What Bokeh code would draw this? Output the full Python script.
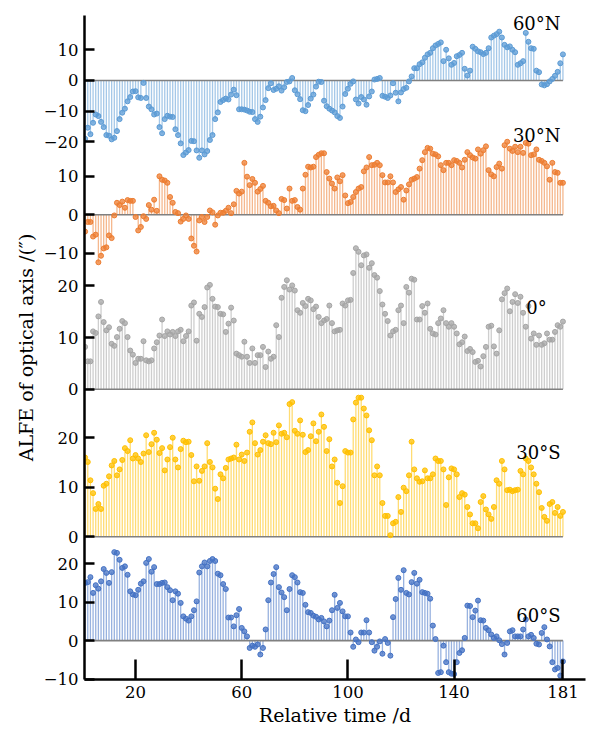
from bokeh.plotting import figure
from bokeh.models import (Range1d, LinearAxis, FixedTicker, CustomJSTickFormatter,
                          Label, ColumnDataSource)
from bokeh.embed import file_html
from bokeh.resources import INLINE

# ALFE of the optical axis, one value per day (arcseconds)
days = list(range(1, 182))

lat_60n = [
    -19, -15.4, -17.5, -13.8, -11.1, -11.6, -13.5, -15.2, -17.8, -18,
    -19.2, -18.7, -16.5, -12.6, -10.5, -9.2, -6.8, -5.4, -3.6, -3.5,
    -5.5, -5.7, -0.8, -5.7, -8.5, -9.4, -11.1, -10.8, -15.2, -17.2,
    -12.6, -11.5, -11.8, -11.9, -15.9, -17.8, -20.5, -24.3, -23.5, -22.7,
    -19.7, -19.8, -22.8, -25.2, -22.8, -24.1, -23, -19.4, -17.8, -12.6,
    -10.4, -7, -6.4, -5.9, -6.2, -4.6, -3, -4.8, -9.4, -9.4,
    -9.5, -9.8, -10.2, -10.3, -12.6, -13.5, -11.8, -8.8, -6.4, -2.5,
    -0.9, -3.1, -2.7, -1.9, -3.3, -2.2, -0.5, -0.3, 0.8, -3.2,
    -4.5, -6.1, -9.7, -10, -8, -5.9, -4.6, -2, -0.4, -0.5,
    -6.6, -8.4, -9.2, -9.8, -10.4, -11.6, -12.2, -8.5, -4.4, -2.7,
    -1.1, -0.3, -6.2, -7.5, -5.4, -6.2, -7.9, -5.2, -3.6, 0.3,
    0.5, 0.8, -5.0, -5.3, -5.7, -4.9, -0.9, -4.0, -6.8, -3.9,
    -2.8, -2.4, -0.3, 1.3, 4, 4, 5.3, 5.9, 7.4, 8.5,
    9, 10.5, 11.4, 11.9, 12.4, 6.3, 10, 7.2, 5.1, 5.7,
    7.9, 8.3, 9, 3.8, 1.6, 3.2, 11, 10.3, 9.5, 9.2,
    8.6, 9, 10.5, 14, 14.6, 15.1, 15.9, 14, 11.6, 10.8,
    11.1, 10, 9.2, 5.1, 5.6, 6.3, 15.5, 12.6, 10.5, 10.3,
    3.2, 2.7, -1.3, -1.6, -1.2, -0.3, 0.5, 1.5, 2.8, 5.6, 8.5,
]

lat_30n = [
    -4.4, -1.9, -1.9, -5.7, -5.2, -12.4, -10.7, -8.8, -8.5, -5.4,
    -6.1, -0.2, 3.1, 2.5, 3.4, 1.8, 3.8, 3.6, 3.6, -0.6,
    -4.1, -3.2, -0.4, -1.1, 2.5, 1.3, 3.9, 1.0, 10, 9.1,
    8.9, 8.3, 4.6, 3.1, 0.7, 0.4, -1.8, -1.1, -0.2, -1.1,
    -6.2, -8.1, -9.6, -1.5, -0.6, -1.9, -0.6, 1.1, 0.6, -2.6,
    -0.2, 0.5, 0.5, 1, 1.8, 0.4, 2.7, 6.2, 5.5, 6,
    13.5, 9.9, 7.7, 9.3, 8.3, 6, 6.7, 7.5, 3.6, 3.1,
    2.2, 2.3, 1.1, 0.4, 4.1, 3.8, 1.6, 6.8, 3.6, 3.8,
    2, 1.3, 6.8, 10.4, 12.5, 12.3, 12.5, 15, 15.6, 16,
    16, 11.1, 9.4, 8.1, 6.8, 9.7, 8.7, 10.3, 5, 3,
    3.3, 4.6, 5.9, 6.8, 7.2, 11.3, 12.3, 15, 12.9, 13,
    13.5, 12.9, 10.3, 8.4, 8.4, 10, 8.4, 5.9, 6.6, 7.2,
    3.9, 6.3, 7.9, 9.1, 9.4, 9.8, 12, 14.2, 16.3, 17.4,
    17.2, 15.9, 15.7, 15.2, 12.9, 11.6, 13.5, 13.5, 12.9, 14.2,
    14, 13.5, 12.3, 14.3, 16.3, 15.5, 14.9, 14.6, 17, 15.9,
    16.8, 17.8, 11.6, 10.5, 10, 12.4, 13.3, 12, 18.1, 19,
    17.2, 16.6, 17.7, 16.3, 17.7, 16.1, 18.7, 18.5, 15.5, 15.7,
    17, 14.3, 14, 13.5, 12.6, 9.1, 13.5, 11.1, 10.9, 8.3, 8.3,
]

lat_0 = [
    8.2, 5.4, 5.4, 11.2, 10.9, 14.1, 16.9, 13, 11.4, 12,
    8.8, 8.4, 10.1, 11.7, 13.2, 12.8, 10.1, 7.5, 6.7, 5.1,
    5.9, 5.9, 9.3, 5.6, 5.4, 5.6, 7.9, 9.1, 10.4, 13.5,
    10.3, 11.2, 10.6, 11.1, 10.3, 11.2, 11.5, 9.3, 10.3, 11.2,
    16.2, 16.8, 9.4, 14.6, 14, 15.9, 19.7, 20.2, 17.5, 16,
    15.9, 14.6, 14.5, 11.1, 12.7, 15.8, 13.3, 6.9, 6.6, 6.3,
    9.2, 6.3, 5.1, 7.9, 5.1, 6.6, 6.6, 8.2, 4.3, 7.3,
    5.9, 6.3, 12.4, 10.1, 17.7, 19.8, 21.1, 19.3,
    20.1, 19.1, 15.3, 14.8, 16.7, 16.1, 17.5, 17.2, 15.5, 16, 14, 12.8,
    13.3, 13.6, 16.2, 12.8, 11.2, 11.4, 11.5, 16.6, 16.2, 17.2,
    17.3, 22.5, 27.3, 26.6, 24, 25.9, 26.1, 23.5, 24.4, 22.1,
    21.6, 19, 16.4, 14.6, 13.2, 10.4, 11.2, 11.5, 15.3, 16.2,
    12.8, 19.8, 18.7, 21.4, 21.2, 13.5, 13.5, 16.1, 14.8, 16.6,
    11.7, 10.8, 10.6, 12.8, 13.7, 15.3, 12.8, 12.1, 12.8, 12.1,
    10.8, 8.7, 9.1, 10.2, 7.4, 7.8, 7.2, 5.3, 5.5, 4.4,
    6.4, 8.2, 12.1, 12.3, 8.3, 6.9, 11.4, 17.4, 18.6, 19.5,
    15.1, 16.9, 18.4, 16.7, 17.9, 14.8, 12.1, 16.1, 9.8, 10.8,
    8.6, 10.4, 8.6, 8.9, 10.8, 9.6, 9.6, 11.1, 12.4, 12.1, 13.1,
]

lat_30s = [
    16, 15.1, 11.4, 8.8, 5.6, 6.6, 5.6, 10.3, 10.7, 12.2,
    14.4, 15.3, 12.4, 13.6, 15.5, 17.9, 17.3, 19.5, 15.8, 16.5,
    15.8, 15.1, 16.8, 20.5, 17.1, 18.7, 21, 19.6, 16.9, 17.9,
    13.4, 15.6, 18.1, 20, 15.6, 14, 17.7, 19.4, 19.1, 19.2,
    16.5, 11.2, 14.2, 11.3, 13.3, 14.2, 18.9, 15.1, 14, 9.7,
    7.6, 12.6, 11.8, 13.9, 15.6, 15.8, 16, 18.6, 15.6, 16.6,
    15.3, 17, 21.2, 23.1, 18.9, 16.6, 17.5, 19.2, 20.5, 18.9,
    18.7, 21, 19.1, 22.5, 20.8, 21, 20.1, 26.8,
    27.2, 21.4, 20.8, 23.5, 20.6, 17.1, 17.5, 20.3, 22.9, 19.3, 21.2, 24.7,
    22.2, 17.3, 19.7, 14.2, 15.6, 10.9, 6.8, 10.2, 17.3, 17,
    17, 23.7, 27.1, 28.1, 28.1, 25.9, 24.5, 21.5, 19.5, 12.4,
    14.2, 12.4, 6.8, 4.2, 4.2, 0.3, 2.7, 3, 8, 5,
    9.9, 9.2, 12.4, 19.2, 13.6, 11.8, 11.1, 11.2, 13.4, 11.8,
    11.8, 12.6, 15.8, 15.3, 15.3, 13.6, 6.4, 12, 13.8, 13.6,
    12.6, 8, 8.8, 8.5, 6, 4.5, 2.7, 2.7, 1.7, 7,
    8.2, 5.5, 4.5, 3.6, 6, 11.4, 10.7, 15.3, 13.6, 9.4,
    9.5, 9.2, 9.4, 9.5, 13.3, 12.6, 15.8, 15.3, 14, 12.6,
    10.7, 9, 5.8, 4, 3.2, 6.6, 7, 4.8, 6, 4.2, 5.0,
]

lat_60s = [
    15.0,
    15.2, 16.5, 12.4, 14.4, 13.5, 15.4, 18.6, 17.6, 15, 17.8,
    23, 22.8, 21, 18.9, 19.3, 17.1, 12.8, 12, 11.8, 13.2,
    14.8, 15.4, 20.2, 21.2, 17.9, 19.1, 14.7, 14.7, 15, 15.1,
    13.9, 13.1, 10.5, 12.8, 12.2, 9.8, 6.3, 5.7, 5.2, 6.3,
    7.9, 10.2, 17.7, 19.3, 20.3, 19.3, 20.7, 21.2, 20.7, 17.4,
    17, 14.7, 13.4, 6, 6, 3.7, 6.6, 8.2, 3.3, 2.4,
    1.1, -1.9, -1.3, -1.6, -1.0, -3.6, -1.9, 2.9, 10.5, 15.1,
    17.3, 19.1, 13.9, 12.5, 11.3, 7.9,
    13.4, 17.0, 16.5, 15.1, 12.6, 12.4, 9.3, 7.4, 7.2, 6.5,
    6.2, 5.5, 5.9, 5.0, 3.7, 5.2, 7.9, 11.9, 8.5, 9.8,
    7.6, 6.3, 6.3, 2.1, -1.6, 0.3, -0.4, 2.1, 2.1, 5.3,
    2.1, -0.4, -2.6, -1.6, -0.2, -3.4, 0.4, -0.6, -3.9, 6.1,
    10.8, 16.3, 13.2, 18.3, 12.4, 12, 15.2, 17.6, 14.8, 15.8,
    12.6, 12.4, 12.2, 10.9, 3.9, 0.4, -8.4, -8.2, -1.3, -5.6,
    -8.2, -8.6, -8.7, -5.6, -3.2, -2.5, 0.7, 9.1, 9.0, 6.1,
    7.8, 10.4, 5.3, 5.2, 3.3, 2.7, 1.6, 0.7, 1.1, 0.1,
    -0.9, -3.6, -0.6, 2.4, 2.7, 1.1, 1.1, 1.1, 2.9, 5.5,
    1.1, 1.5, 0.7, -0.8, -1.0, 2.0, 3.5, 0.3, -1.5, -5.6,
    -7.5, -7.1, -9.1, -5.4,
]

labels = ["60°N", "30°N", "0°", "30°S", "60°S"]
colors = ["#5B9BD5", "#ED7D31", "#A5A5A5", "#FFC000", "#4472C4"]
tick_sets = [[10, 0, -10, -20], [10, 0, -10], [20, 10, 0], [20, 10, 0], [20, 10, 0, -10]]
x_ticks = [20, 60, 100, 140, 181]

# Each panel lives in its own band of one shared frame: zero level (in frame
# pixels from the bottom) and pixels per arcsecond.
FRAME_H = 664
bands = [(599.0, 3.07), (464.7, 3.84), (290.0, 5.17), (142.5, 4.95), (38.5, 3.85)]
# Anchor of each series name: (day, value) in the panel's own units
label_at = [(180.1, 18.6), (180.1, 20.7), (174.9, 15.9), (180.1, 17.1), (180.1, 6.5)]

FONT = "DejaVu Serif"

p = figure(width=593, height=731, output_backend="svg", toolbar_location=None,
           x_range=Range1d(0.77, 189.5), y_range=Range1d(-0.4, FRAME_H),
           x_axis_type=None, y_axis_type=None,
           min_border_left=84, min_border_right=8, min_border_top=15,
           min_border_bottom=52)
p.outline_line_color = None
p.background_fill_color = "white"
p.border_fill_color = "white"

series = [lat_60n, lat_30n, lat_0, lat_30s, lat_60s]
tick_pos, tick_lab = [], []

for i, (vals, color, (base, k), ticks, name, (lx, ly)) in enumerate(
        zip(series, colors, bands, tick_sets, labels, label_at)):
    rname = f"band{i}"
    p.extra_y_ranges[rname] = Range1d((-0.4 - base) / k, (FRAME_H - base) / k)
    n = len(vals)
    src = ColumnDataSource(dict(day=days[:n], v=vals, zero=[0] * n))
    p.segment(x0="day", y0="zero", x1="day", y1="v", source=src, y_range_name=rname,
              line_color=color, line_alpha=0.55, line_width=1.3)
    p.segment(x0=[days[0]], y0=[0], x1=[days[n - 1]], y1=[0], y_range_name=rname,
              line_color="#808080", line_width=1.6)
    p.scatter(x="day", y="v", source=src, y_range_name=rname, size=5,
              fill_color=color, fill_alpha=0.75, line_color=color, line_width=1)
    p.add_layout(Label(x=lx, y=ly, y_range_name=rname, text=name,
                       text_align="right", text_baseline="alphabetic",
                       text_font=FONT, text_font_size="18px", text_color="black"))
    for t in ticks:
        tick_pos.append(round(base + t * k, 3))
        tick_lab.append(str(t).replace("-", "\u2212"))

yfmt = CustomJSTickFormatter(args=dict(pos=tick_pos, lab=tick_lab), code="""
let best = ''; let d = 1e9;
for (let i = 0; i < pos.length; i++) {
  const e = Math.abs(pos[i] - tick);
  if (e < d) { d = e; best = lab[i]; }
}
return best;
""")

yaxis = LinearAxis(ticker=FixedTicker(ticks=tick_pos, minor_ticks=[]), formatter=yfmt,
                   axis_label="ALFE of optical axis /(\u2033)")
xaxis = LinearAxis(ticker=FixedTicker(ticks=x_ticks, minor_ticks=[]),
                   axis_label="Relative time /d")

for ax in (xaxis, yaxis):
    ax.axis_line_width = 2.5
    ax.axis_line_color = "black"
    ax.major_tick_line_width = 2.5
    ax.major_tick_line_color = "black"
    ax.major_tick_out = 0
    ax.minor_tick_line_color = None
    ax.major_label_text_font = FONT
    ax.major_label_text_font_size = "16.5px"
    ax.major_label_text_color = "black"
    ax.axis_label_text_font = FONT
    ax.axis_label_text_font_size = "19px"
    ax.axis_label_text_font_style = "normal"
    ax.axis_label_text_color = "black"

yaxis.major_tick_in = 10
yaxis.major_label_standoff = 6
yaxis.axis_label_standoff = 4
xaxis.major_tick_in = 20
xaxis.major_label_standoff = 6
xaxis.axis_label_standoff = 3

p.add_layout(yaxis, "left")
p.add_layout(xaxis, "below")

open("out.html", "w").write(file_html(p, INLINE))
